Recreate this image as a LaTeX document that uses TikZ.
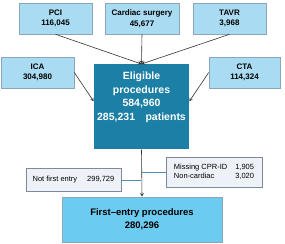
\documentclass[tikz,border=0pt]{standalone}
\usepackage{fontspec}
\setmainfont{Liberation Sans}
\usepackage{xcolor}
\usetikzlibrary{arrows}

\definecolor{srcfill}{HTML}{A9DCF2}
\definecolor{srcline}{HTML}{8AA6B8}
\definecolor{eligfill}{HTML}{1B7FA6}
\definecolor{firstfill}{HTML}{6BCBF0}
\definecolor{exclfill}{HTML}{EEF2F8}
\definecolor{exclline}{HTML}{7C8A99}
\definecolor{sideline}{HTML}{4F90B0}

\begin{document}
\begin{tikzpicture}[
			x=1pt, y=-1pt,
			src/.style={rectangle, draw=srcline, fill=srcfill, line width=0.6pt, inner sep=0pt, align=center, font=\fontsize{8}{10.5}\selectfont\bfseries},
			elig/.style={rectangle, fill=eligfill, text=white, inner xsep=0pt, inner ysep=8pt, align=center, font=\fontsize{10.5}{13.5}\selectfont\bfseries},
			first/.style={rectangle, draw=srcline, fill=firstfill, line width=0.6pt, inner sep=0pt, align=center, font=\fontsize{9.5}{13.5}\selectfont\bfseries},
			excl/.style={rectangle, draw=exclline, fill=exclfill, line width=0.6pt, inner sep=0pt, font=\fontsize{7.5}{9.5}\selectfont},
			side/.style={draw=sideline, line width=0.7pt},
			>=stealth,
			line width=0.6pt
			]
			\useasboundingbox (0,0) rectangle (285,244);
			
			% Fontes
			\node[src, minimum width=73pt, minimum height=31pt] (pci) at (55.5,18.5) {PCI\\116,045};
			\node[src, minimum width=74pt, minimum height=31pt] (surg) at (142,18.5) {Cardiac surgery\\45,677};
			\node[src, minimum width=73pt, minimum height=31pt] (tavr) at (229.5,18.5) {TAVR\\3,968};
			\node[src, minimum width=73pt, minimum height=31pt] (ica) at (37.5,72.5) {ICA\\304,980};
			\node[src, minimum width=71pt, minimum height=31pt] (cta) at (244.5,72.5) {CTA\\114,324};
			
			% Procedimentos elegiveis
			\node[elig, minimum width=95pt, anchor=north, text depth=21pt] (elig) at (141.5,64) {Eligible\\procedures\\584,960\\285,231\quad patients};
			
			% Exclusoes
			\node[excl, minimum width=96pt, minimum height=30pt] (missing) at (214,172) {\begin{tabular}{@{}l@{\hspace{8pt}}r@{}}Missing CPR-ID & 1,905\\Non-cardiac & 3,020\end{tabular}};
			\node[excl, minimum width=95pt, minimum height=23pt] (notfirst) at (73.5,180) {Not first entry\hspace{10pt}299,729};
			
			% Resultado
			\node[first, minimum width=160pt, minimum height=45pt] (first) at (142,219.5) {First–entry procedures\\280,296};
			
			% Setas
			\draw[->, black!80] (pci.south) -- (elig.north);
			\draw[->, black!80] (surg.south) -- (elig.north);
			\draw[->, black!80] (tavr.south) -- (elig.north);
			\draw[->, black!80] (ica.east) -- ([yshift=5.5pt]elig.west);
			\draw[->, black!80] (cta.west) -- ([yshift=5.5pt]elig.east);
			\draw[->, black!80] (elig.south) -- (first.north);
			
			% Linhas laterais
			\draw[side] (notfirst.east) -- (notfirst.east -| elig.south);
			\draw[side] (missing.west) -- (missing.west -| elig.south);
			
		\end{tikzpicture}
\end{document}
